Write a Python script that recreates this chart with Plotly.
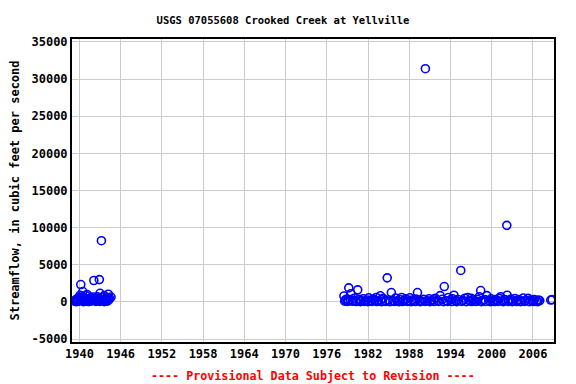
import plotly.graph_objects as go

title_text = "USGS 07055608 Crooked Creek at Yellville"
y_title = "Streamflow, in cubic feet per second"
note_text = "---- Provisional Data Subject to Revision ----"
x_ticks = [1940, 1946, 1952, 1958, 1964, 1970, 1976, 1982, 1988, 1994, 2000, 2006]
y_ticks = [-5000, 0, 5000, 10000, 15000, 20000, 25000, 30000, 35000]

early_year = [1939.3, 1939.4, 1939.5, 1939.6, 1939.7, 1939.8, 1939.9, 1940.0, 1940.1, 1940.2,
              1940.25, 1940.3, 1940.4, 1940.5, 1940.6, 1940.7, 1940.8, 1940.9, 1941.0, 1941.1,
              1941.2, 1941.3, 1941.4, 1941.5, 1941.6, 1941.7, 1941.8, 1941.9, 1942.0, 1942.1,
              1942.2, 1942.3, 1942.4, 1942.5, 1942.6, 1942.7, 1942.8, 1942.9, 1943.0, 1943.1,
              1943.2, 1943.3, 1943.4, 1943.5, 1943.6, 1943.7, 1943.8, 1943.9, 1944.0, 1944.1,
              1944.2, 1944.3, 1944.4, 1944.6, 1939.6, 1940.1, 1940.6, 1941.3, 1942.4, 1943.0,
              1943.6, 1944.0, 1941.0, 1942.9]
early_flow = [150, 60, 300, 120, 450, 80, 200, 600, 900, 2340,
              350, 150, 700, 1390, 250, 90, 500, 180, 320, 1000,
              140, 420, 70, 260, 550, 110, 380, 200, 650, 2880,
              300, 160, 480, 90, 700, 240, 520, 3000, 1160, 350,
              8240, 180, 600, 270, 850, 130, 440, 220, 560, 150,
              1030, 300, 480, 650, 40, 250, 30, 50, 60, 70,
              40, 90, 820, 450]

late_year = [1978.5, 1978.7, 1978.9, 1979.1, 1979.2, 1979.4, 1979.5, 1979.8, 1980.0, 1980.2,
             1980.5, 1980.7, 1981.0, 1981.3, 1981.6, 1981.9, 1982.1, 1982.4, 1982.7, 1983.0,
             1983.2, 1983.5, 1983.8, 1983.9, 1984.2, 1984.5, 1984.8, 1985.0, 1985.4, 1985.7,
             1986.0, 1986.3, 1986.6, 1986.9, 1987.2, 1987.5, 1987.8, 1988.1, 1988.4, 1988.7,
             1989.0, 1989.2, 1989.5, 1989.8, 1990.1, 1990.35, 1990.6, 1990.9, 1991.2, 1991.5,
             1991.8, 1992.1, 1992.5, 1992.8, 1993.1, 1993.4, 1993.7, 1994.0, 1994.3, 1994.5,
             1994.8, 1995.1, 1995.5, 1995.8, 1996.1, 1996.5, 1996.8, 1997.0, 1997.3, 1997.6,
             1997.9, 1998.2, 1998.4, 1998.7, 1999.0, 1999.3, 1999.6, 1999.9, 2000.2, 2000.5,
             2000.8, 2001.1, 2001.3, 2001.6, 2001.9, 2002.2, 2002.25, 2002.5, 2002.8, 2003.1,
             2003.4, 2003.7, 2004.0, 2004.3, 2004.6, 2004.9, 2005.3, 2005.6, 2005.9, 2006.2,
             2006.5, 2006.8, 2007.0, 2008.6, 2008.8,
             1978.6, 1979.0, 1979.7, 1980.3, 1980.9, 1981.5, 1982.0, 1982.6, 1983.3, 1984.0,
             1984.6, 1985.2, 1985.9, 1986.5, 1987.0, 1987.7, 1988.3, 1988.9, 1989.6, 1990.3,
             1991.0, 1991.6, 1992.3, 1993.0, 1993.6, 1994.2, 1994.9, 1995.6, 1996.3, 1997.1,
             1997.8, 1998.5, 1999.1, 1999.8, 2000.4, 2001.0, 2001.7, 2002.4, 2003.0, 2003.6,
             2004.2, 2004.8, 2005.5, 2006.1, 2006.7]
late_flow = [800, 250, 400, 150, 1890, 300, 1100, 200, 500, 120,
             1620, 350, 180, 420, 90, 260, 550, 150, 380, 220,
             600, 100, 820, 300, 480, 160, 3240, 250, 1260, 140,
             520, 90, 330, 600, 180, 420, 110, 550, 260, 80,
             400, 1260, 200, 90, 350, 31400, 160, 430, 120, 280,
             500, 200, 850, 350, 2070, 150, 600, 280, 420, 900,
             180, 330, 4230, 210, 500, 600, 150, 500, 270, 90,
             350, 700, 1530, 200, 300, 850, 160, 420, 100, 330,
             200, 480, 700, 150, 300, 10310, 900, 220, 380, 130,
             450, 200, 300, 90, 520, 180, 500, 260, 150, 300,
             120, 250, 180, 250, 300,
             100, 60, 80, 50, 40, 70, 30, 60, 50, 40,
             70, 30, 60, 40, 50, 70, 30, 50, 40, 60,
             30, 50, 70, 40, 60, 50, 30, 60, 40, 50,
             70, 40, 60, 30, 50, 70, 40, 60, 30, 50,
             40, 60, 30, 50, 40]

years = early_year + late_year
flows = early_flow + late_flow

font_family = "DejaVu Sans Mono"
W, H = 568, 376  # page has an 8px body margin

fig = go.Figure()
fig.add_trace(go.Scatter(
    x=years, y=flows, mode="markers",
    marker=dict(symbol="circle-open", size=8, color="#0000ff",
                line=dict(width=1.6, color="#0000ff")),
    showlegend=False, hoverinfo="x+y",
))

fig.update_layout(
    width=W, height=H,
    margin=dict(l=64, r=22, t=31, b=42, autoexpand=False),
    paper_bgcolor="white", plot_bgcolor="white",
    title=dict(text="<b>" + title_text + "</b>", x=275 / W, xanchor="center",
               xref="container", y=1 - 12 / H, yref="container", yanchor="middle",
               font=dict(family=font_family, size=10.5, color="black")),
    font=dict(family=font_family, size=12, color="black"),
    xaxis=dict(range=[1938.92, 2009.07], tickvals=x_ticks,
               ticktext=["<b>%d</b>" % t for t in x_ticks],
               showgrid=True, gridcolor="#cccccc", gridwidth=1,
               showline=True, linecolor="black", linewidth=2, mirror=True,
               ticks="", zeroline=False, automargin=False,
               tickfont=dict(family=font_family, size=12, color="black")),
    yaxis=dict(range=[-5400, 35400], tickvals=y_ticks,
               ticktext=["<b>%d</b>" % t for t in y_ticks],
               showgrid=True, gridcolor="#cccccc", gridwidth=1,
               showline=True, linecolor="black", linewidth=2, mirror=True,
               ticks="", zeroline=False, automargin=False,
               title=dict(text="<b>" + y_title + "</b>", standoff=14,
                          font=dict(family=font_family, size=12, color="black")),
               tickfont=dict(family=font_family, size=12, color="black")),
    annotations=[dict(text="<b>" + note_text + "</b>",
                      x=(313 - 72) / 482, xref="paper", xanchor="center",
                      y=-34 / 303, yref="paper", yanchor="middle",
                      showarrow=False,
                      font=dict(family=font_family, size=11.7, color="#ff0000"))],
)

fig.write_html("out.html")
